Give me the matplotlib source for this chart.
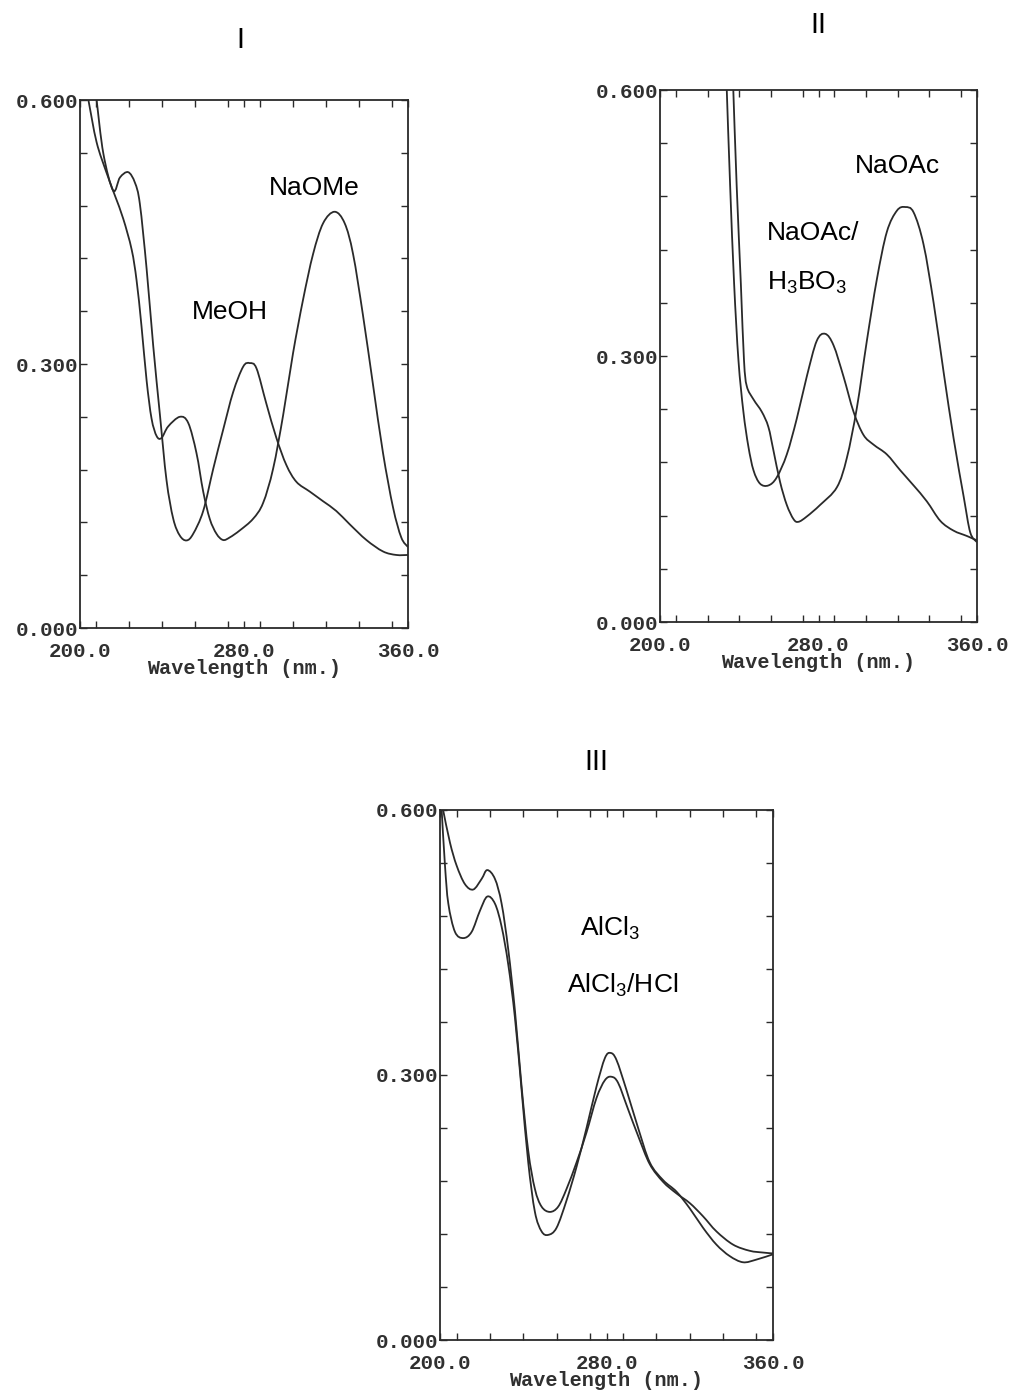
import matplotlib
matplotlib.use("Agg")
import matplotlib.pyplot as plt
from matplotlib.path import Path
from matplotlib.patches import PathPatch
from matplotlib.ticker import MultipleLocator, FixedLocator, FixedFormatter

plt.rcParams['font.family'] = ['Liberation Sans', 'DejaVu Sans']
plt.rcParams['mathtext.fontset'] = 'custom'
plt.rcParams['mathtext.rm'] = 'Liberation Sans'

# ---------------- Data ----------------
# Panel I
meoh_x = [208.1, 211.4, 216.2, 219.5, 223.5, 226.8, 229.2, 232.5, 235.7, 239.0, 242.2, 245.5,
          248.7, 252.0, 255.2, 260.1, 265.0, 269.8, 274.7, 279.6, 282.8, 286.1, 290.9, 295.8,
          300.7, 305.6, 312.1, 318.6, 325.0, 331.5, 339.7, 347.8, 354.3, 360.0]
meoh_y = [0.600, 0.539, 0.497, 0.512, 0.518, 0.506, 0.482, 0.408, 0.321, 0.242, 0.168, 0.124,
          0.105, 0.0995, 0.107, 0.133, 0.181, 0.225, 0.268, 0.297, 0.301, 0.295, 0.255, 0.216,
          0.185, 0.166, 0.155, 0.144, 0.133, 0.118, 0.100, 0.087, 0.083, 0.083]
naome_x = [204.1, 208.1, 213.0, 217.1, 221.1, 225.2, 227.6, 230.0, 232.5, 234.9, 237.4, 239.8,
           243.0, 248.7, 252.8, 256.8, 260.1, 263.3, 266.6, 269.8, 273.1, 278.0, 284.4, 289.3,
           294.2, 299.1, 303.9, 308.8, 313.7, 318.6, 324.2, 329.1, 333.2, 338.0, 342.9, 347.8,
           352.7, 356.7, 360.0]
naome_y = [0.600, 0.552, 0.517, 0.491, 0.465, 0.430, 0.395, 0.343, 0.281, 0.238, 0.218, 0.216,
           0.229, 0.240, 0.233, 0.199, 0.155, 0.124, 0.107, 0.100, 0.103, 0.111, 0.124, 0.142,
           0.181, 0.242, 0.312, 0.373, 0.425, 0.460, 0.473, 0.460, 0.425, 0.356, 0.277, 0.199,
           0.137, 0.103, 0.092]

# Panel II
boric_x = [233.7, 235.4, 237.4, 239.6, 242.1, 244.6, 247.2, 250.5, 254.7, 258.9, 264.0, 269.0,
           274.1, 279.1, 283.4, 287.6, 292.6, 297.7, 302.7, 307.8, 314.5, 321.3, 328.0, 334.7,
           341.5, 348.2, 354.9, 360.0]
boric_y = [0.600, 0.492, 0.382, 0.295, 0.237, 0.198, 0.171, 0.156, 0.154, 0.163, 0.189, 0.229,
           0.277, 0.317, 0.325, 0.312, 0.277, 0.237, 0.211, 0.200, 0.189, 0.171, 0.154, 0.136,
           0.114, 0.103, 0.097, 0.092]
naoac_x = [237.0, 238.7, 240.8, 242.4, 243.8, 247.2, 251.4, 254.7, 257.3, 260.6, 264.0, 267.4,
           269.9, 274.1, 280.8, 289.3, 294.3, 299.4, 304.4, 309.5, 314.5, 319.6, 323.8, 328.0,
           333.0, 338.1, 343.2, 348.2, 353.3, 356.6, 360.0]
naoac_y = [0.600, 0.492, 0.382, 0.295, 0.266, 0.251, 0.237, 0.220, 0.193, 0.158, 0.132, 0.116,
           0.113, 0.119, 0.132, 0.152, 0.185, 0.242, 0.317, 0.387, 0.440, 0.464, 0.468, 0.462,
           0.426, 0.360, 0.281, 0.207, 0.141, 0.101, 0.090]

# Panel III
alcl3_x = [201.5, 204.8, 208.0, 212.0, 216.0, 220.0, 222.7, 226.4, 229.6, 232.8, 236.0, 239.2,
           242.4, 245.6, 248.8, 252.8, 256.8, 260.8, 265.6, 270.4, 275.2, 279.2, 282.4, 285.6,
           290.4, 295.2, 300.8, 307.2, 313.6, 320.0, 326.4, 332.8, 340.8, 348.8, 355.2, 360.0]
alcl3_y = [0.600, 0.563, 0.537, 0.516, 0.510, 0.522, 0.532, 0.522, 0.494, 0.442, 0.373, 0.287,
           0.214, 0.171, 0.151, 0.145, 0.151, 0.171, 0.201, 0.235, 0.274, 0.294, 0.298, 0.291,
           0.261, 0.231, 0.199, 0.179, 0.166, 0.155, 0.140, 0.123, 0.108, 0.101, 0.099, 0.098]
hcl_x = [200.8, 202.4, 204.0, 207.2, 211.2, 215.2, 219.2, 222.7, 226.4, 229.6, 232.8, 236.0,
         239.2, 242.4, 245.6, 248.8, 252.0, 256.0, 260.8, 265.6, 270.4, 275.2, 279.2, 281.9,
         284.8, 289.6, 295.2, 300.8, 307.2, 313.6, 320.0, 326.4, 332.8, 339.2, 345.6, 352.0, 360.0]
hcl_y = [0.600, 0.537, 0.494, 0.462, 0.455, 0.462, 0.486, 0.502, 0.494, 0.468, 0.425, 0.365,
         0.283, 0.201, 0.145, 0.123, 0.119, 0.127, 0.158, 0.196, 0.240, 0.287, 0.319, 0.325,
         0.317, 0.283, 0.240, 0.201, 0.181, 0.168, 0.149, 0.127, 0.108, 0.095, 0.088, 0.091, 0.097]

xtick_vals = [200.0, 280.0, 360.0]
xtick_labels = ["200.0", "280.0", "360.0"]
ytick_vals = [0.0, 0.3, 0.6]
ytick_labels = ["0.000", "0.300", "0.600"]

W, H = 1016, 1396
fig = plt.figure(figsize=(W / 100, H / 100), dpi=100)
fig.patch.set_facecolor('white')

LINE = '#2a2a2a'
TXT = '#303030'
mono = ['Liberation Mono', 'DejaVu Sans Mono']


def make_axes(left, top, right, bottom):
    ax = fig.add_axes([left / W, 1 - bottom / H, (right - left) / W, (bottom - top) / H])
    ax.set_xlim(200, 360)
    ax.set_ylim(0, 0.6)
    ax.xaxis.set_major_locator(FixedLocator(xtick_vals))
    ax.xaxis.set_major_formatter(FixedFormatter(xtick_labels))
    ax.yaxis.set_major_locator(FixedLocator(ytick_vals))
    ax.yaxis.set_major_formatter(FixedFormatter(ytick_labels))
    ax.xaxis.set_minor_locator(MultipleLocator(16))
    ax.yaxis.set_minor_locator(MultipleLocator(0.06))
    ax.tick_params(which='both', direction='in', top=True, right=True, length=5,
                   width=1.0, color=LINE)
    ax.tick_params(axis='y', pad=1)
    ax.tick_params(axis='x', pad=10)
    for lab in ax.get_xticklabels() + ax.get_yticklabels():
        lab.set_fontfamily(mono)
        lab.set_fontweight('bold')
        lab.set_fontsize(15)
        lab.set_color(TXT)
    for s in ax.spines.values():
        s.set_linewidth(1.3)
        s.set_color(LINE)
    ax.set_xlabel("Wavelength (nm.)", fontfamily=mono, fontweight='bold', fontsize=14.5,
                  color=TXT, labelpad=-1)
    return ax


def smooth_curve(ax, xs, ys):
    # Catmull-Rom spline through the read points, drawn as cubic Bezier segments
    pts = list(zip(xs, ys))
    n = len(pts)
    verts = [pts[0]]
    codes = [Path.MOVETO]
    for i in range(n - 1):
        p0 = pts[i - 1] if i > 0 else pts[i]
        p1 = pts[i]
        p2 = pts[i + 1]
        p3 = pts[i + 2] if i + 2 < n else pts[i + 1]
        c1 = (p1[0] + (p2[0] - p0[0]) / 6.0, p1[1] + (p2[1] - p0[1]) / 6.0)
        c2 = (p2[0] - (p3[0] - p1[0]) / 6.0, p2[1] - (p3[1] - p1[1]) / 6.0)
        verts += [c1, c2, p2]
        codes += [Path.CURVE4, Path.CURVE4, Path.CURVE4]
    patch = PathPatch(Path(verts, codes), facecolor='none', edgecolor=LINE, lw=1.3,
                      transform=ax.transData)
    ax.add_patch(patch)


def ftext(x, y, s, size=19, ha='center'):
    fig.text(x / W, 1 - y / H, s, fontsize=size, ha=ha, va='center', color='black')


# Panel I
ax1 = make_axes(80, 100, 408, 628)
smooth_curve(ax1, meoh_x, meoh_y)
smooth_curve(ax1, naome_x, naome_y)
ftext(240, 40, "I", size=21)
ftext(314, 188, "NaOMe")
ftext(230, 312, "MeOH")

# Panel II
ax2 = make_axes(660, 90, 977, 622)
smooth_curve(ax2, boric_x, boric_y)
smooth_curve(ax2, naoac_x, naoac_y)
ftext(818, 25, "II", size=21)
ftext(897, 166, "NaOAc")
ftext(767, 233, "NaOAc/", ha='left')
ftext(767, 283, r"H$_\mathregular{3}$BO$_\mathregular{3}$", ha='left')

# Panel III
ax3 = make_axes(440, 810, 773, 1340)
smooth_curve(ax3, alcl3_x, alcl3_y)
smooth_curve(ax3, hcl_x, hcl_y)
ftext(596, 762, "III", size=21)
ftext(610, 928, r"AlCl$_\mathregular{3}$")
ftext(623, 985, r"AlCl$_\mathregular{3}$/HCl")

fig.savefig("out.png", dpi=100, facecolor='white')
